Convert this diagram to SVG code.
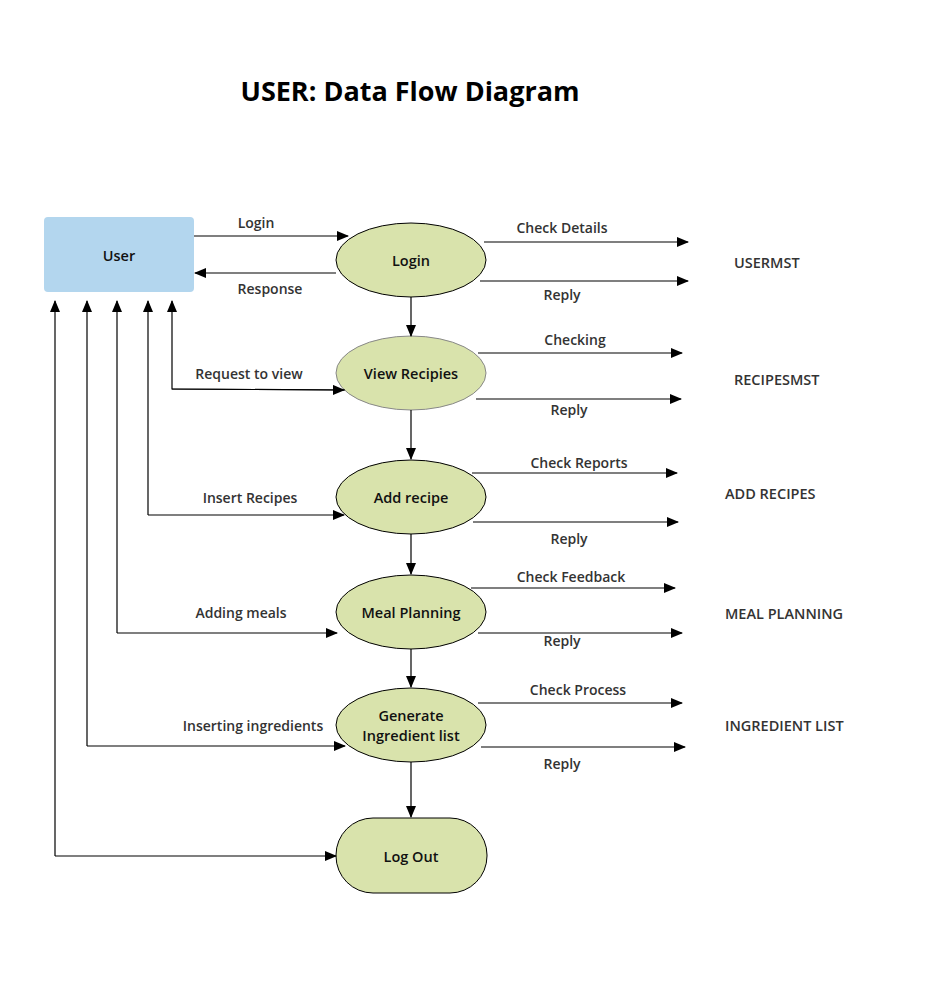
<svg xmlns="http://www.w3.org/2000/svg" width="948" height="1004" viewBox="0 0 948 1004">
<style>
.title{font-family:"Open Sans","Liberation Sans",sans-serif;font-weight:700;font-size:27px;fill:#000}
.node{fill:#d9e3ac;stroke:#000;stroke-width:1}
.nt{font-family:"Open Sans","Liberation Sans",sans-serif;font-weight:600;font-size:14.5px;fill:#111;text-anchor:middle}
.lbl{font-family:"Open Sans","Liberation Sans",sans-serif;font-weight:600;font-size:14px;fill:#333;text-anchor:middle}
.store{font-family:"Open Sans","Liberation Sans",sans-serif;font-weight:600;font-size:14.5px;fill:#333}
.c{fill:none;stroke:#000;stroke-width:1.2}
</style>
<defs>
<marker id="ah" markerWidth="12" markerHeight="10" refX="11" refY="5" orient="auto" markerUnits="userSpaceOnUse">
<path d="M0,0 L12,5 L0,10 Z" fill="#000"/>
</marker>
</defs>
<rect width="948" height="1004" fill="#fff"/>
<text class="title" x="410" y="101" text-anchor="middle">USER: Data Flow Diagram</text>

<g id="user">
<rect x="44" y="217" width="150" height="75" rx="4" fill="#b3d6ee"/>
<text class="nt" x="119" y="261">User</text>
</g>
<g id="login">
<ellipse class="node" cx="411" cy="260" rx="75" ry="37"/>
<text class="nt" x="411" y="266">Login</text>
</g>
<g id="view-recipies">
<ellipse class="node" cx="411" cy="373" rx="75" ry="37" style="stroke:#888"/>
<text class="nt" x="411" y="379">View Recipies</text>
</g>
<g id="add-recipe">
<ellipse class="node" cx="411" cy="497" rx="75" ry="37"/>
<text class="nt" x="411" y="503">Add recipe</text>
</g>
<g id="meal-planning">
<ellipse class="node" cx="411" cy="612" rx="75" ry="37"/>
<text class="nt" x="411" y="618">Meal Planning</text>
</g>
<g id="generate-ingredient-list">
<ellipse class="node" cx="411" cy="725" rx="75" ry="37"/>
<text class="nt" x="411" y="721">Generate</text>
<text class="nt" x="411" y="741">Ingredient list</text>
</g>
<g id="log-out">
<rect class="node" x="336" y="818" width="151" height="75" rx="37" ry="37"/>
<text class="nt" x="411" y="862">Log Out</text>
</g>

<g id="stores">
<text class="store" x="734" y="268">USERMST</text>
<text class="store" x="734" y="385">RECIPESMST</text>
<text class="store" x="725" y="499">ADD RECIPES</text>
<text class="store" x="725" y="619">MEAL PLANNING</text>
<text class="store" x="725" y="731">INGREDIENT LIST</text>
</g>

<g id="connectors">
<path class="c" d="M194,236 H348" marker-end="url(#ah)"/>
<path class="c" d="M336,273 H195" marker-end="url(#ah)"/>
<path class="c" d="M411,297 V336" marker-end="url(#ah)"/>
<path class="c" d="M411,410 V459" marker-end="url(#ah)"/>
<path class="c" d="M411,534 V574" marker-end="url(#ah)"/>
<path class="c" d="M411,649 V687" marker-end="url(#ah)"/>
<path class="c" d="M411,762 V817" marker-end="url(#ah)"/>

<path class="c" d="M345,390 L172,389 V301" marker-end="url(#ah)"/>
<path class="c" d="M172,389 L344,390" marker-end="url(#ah)"/>
<path class="c" d="M148,515 V301" marker-end="url(#ah)"/>
<path class="c" d="M148,515 H344" marker-end="url(#ah)"/>
<path class="c" d="M117,633 V301" marker-end="url(#ah)"/>
<path class="c" d="M117,633 H337" marker-end="url(#ah)"/>
<path class="c" d="M87,746 V301" marker-end="url(#ah)"/>
<path class="c" d="M87,746 H345" marker-end="url(#ah)"/>
<path class="c" d="M55,856 V301" marker-end="url(#ah)"/>
<path class="c" d="M55,856 H336" marker-end="url(#ah)"/>

<path class="c" d="M484,242 H688" marker-end="url(#ah)"/>
<path class="c" d="M480,281 H688" marker-end="url(#ah)"/>
<path class="c" d="M478,353 H682" marker-end="url(#ah)"/>
<path class="c" d="M476,399 H681" marker-end="url(#ah)"/>
<path class="c" d="M472,473 H677" marker-end="url(#ah)"/>
<path class="c" d="M473,522 H678" marker-end="url(#ah)"/>
<path class="c" d="M471,588 H675" marker-end="url(#ah)"/>
<path class="c" d="M478,633 H682" marker-end="url(#ah)"/>
<path class="c" d="M478,703 H682" marker-end="url(#ah)"/>
<path class="c" d="M481,747 H685" marker-end="url(#ah)"/>

<text class="lbl" x="256" y="228">Login</text>
<text class="lbl" x="270" y="294">Response</text>
<text class="lbl" x="249" y="379">Request to view</text>
<text class="lbl" x="250" y="503">Insert Recipes</text>
<text class="lbl" x="241" y="618">Adding meals</text>
<text class="lbl" x="253" y="731">Inserting ingredients</text>
<text class="lbl" x="562" y="233">Check Details</text>
<text class="lbl" x="562" y="300">Reply</text>
<text class="lbl" x="575" y="345">Checking</text>
<text class="lbl" x="569" y="415">Reply</text>
<text class="lbl" x="579" y="468">Check Reports</text>
<text class="lbl" x="569" y="544">Reply</text>
<text class="lbl" x="571" y="582">Check Feedback</text>
<text class="lbl" x="562" y="646">Reply</text>
<text class="lbl" x="578" y="695">Check Process</text>
<text class="lbl" x="562" y="769">Reply</text>
</g>
</svg>
